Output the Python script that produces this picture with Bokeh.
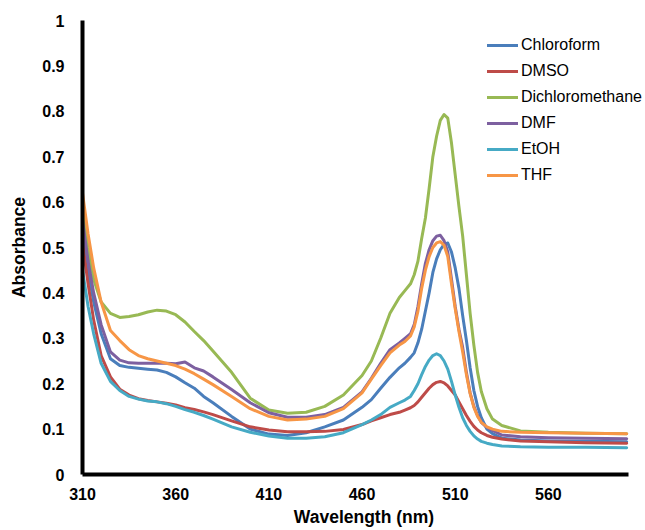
from bokeh.plotting import figure
from bokeh.models import Range1d, FixedTicker, NumeralTickFormatter, Legend, LegendItem
from bokeh.embed import file_html
from bokeh.resources import INLINE

wavelength = [310, 313, 316, 320, 325, 330, 335, 340, 345, 350, 355, 360, 365, 370, 375, 380,
              390, 400, 410, 420, 430, 440, 450, 460, 465, 470, 475, 480, 483,
              486, 488, 490, 492, 494, 496, 498, 500, 502, 504, 506, 508, 510, 512, 514, 516,
              518, 520, 522, 524, 527, 530, 535, 545, 560, 580, 602]

chloroform = [0.53, 0.45, 0.38, 0.31, 0.255, 0.24, 0.236, 0.234, 0.232, 0.23, 0.225, 0.215, 0.202,
              0.19, 0.172, 0.158, 0.128, 0.10, 0.089, 0.086, 0.092, 0.105, 0.12, 0.148, 0.165,
              0.19, 0.214, 0.235, 0.245,
              0.258, 0.268, 0.29, 0.32, 0.36, 0.40, 0.445, 0.475, 0.495, 0.507, 0.51, 0.49, 0.455,
              0.41, 0.35, 0.295, 0.235, 0.185, 0.15, 0.125,
              0.1, 0.09, 0.08, 0.076, 0.074, 0.073, 0.072]
dmso = [0.51, 0.42, 0.34, 0.262, 0.215, 0.188, 0.175, 0.167, 0.163, 0.16, 0.157, 0.153, 0.147,
        0.143, 0.138, 0.132, 0.118, 0.105, 0.098, 0.094, 0.094, 0.095, 0.099, 0.11, 0.118, 0.125,
        0.132, 0.137, 0.142,
        0.147, 0.152, 0.16, 0.17, 0.18, 0.19, 0.198, 0.203, 0.205, 0.202, 0.195, 0.185, 0.175,
        0.16, 0.145, 0.13, 0.117, 0.106, 0.098, 0.092,
        0.086, 0.082, 0.078, 0.074, 0.072, 0.07, 0.069]
dichloromethane = [0.60, 0.50, 0.43, 0.38, 0.355, 0.346, 0.348, 0.352, 0.358, 0.362, 0.36, 0.352,
                   0.336, 0.315, 0.295, 0.272, 0.225, 0.168, 0.142, 0.135, 0.137, 0.15, 0.175,
                   0.218, 0.25, 0.30, 0.355, 0.39, 0.405,
                   0.42, 0.44, 0.47, 0.52, 0.565, 0.63, 0.70, 0.745, 0.78, 0.793, 0.785, 0.73,
                   0.66, 0.59, 0.525, 0.44, 0.355, 0.285, 0.225, 0.183,
                   0.145, 0.122, 0.108, 0.096, 0.093, 0.091, 0.09]
dmf = [0.56, 0.47, 0.40, 0.33, 0.27, 0.252, 0.246, 0.245, 0.245, 0.245, 0.245, 0.244, 0.248, 0.235,
       0.228, 0.215, 0.187, 0.158, 0.136, 0.126, 0.126, 0.132, 0.148, 0.182, 0.212, 0.245, 0.275,
       0.29, 0.30,
       0.31, 0.33, 0.37, 0.42, 0.465, 0.495, 0.515, 0.525, 0.527, 0.515, 0.49, 0.43, 0.37, 0.32,
       0.28, 0.225, 0.18, 0.15, 0.13, 0.115,
       0.104, 0.097, 0.087, 0.083, 0.081, 0.08, 0.079]
etoh = [0.45, 0.37, 0.31, 0.245, 0.205, 0.185, 0.172, 0.166, 0.162, 0.16, 0.156, 0.15, 0.143,
        0.137, 0.13, 0.122, 0.105, 0.093, 0.085, 0.08, 0.08, 0.083, 0.092, 0.11, 0.12, 0.132,
        0.148, 0.158, 0.164,
        0.172, 0.185, 0.2, 0.22, 0.238, 0.252, 0.262, 0.266, 0.262, 0.25, 0.232, 0.205, 0.175,
        0.148, 0.125, 0.108, 0.095, 0.085, 0.078, 0.073,
        0.069, 0.066, 0.063, 0.061, 0.06, 0.06, 0.059]
thf = [0.62, 0.53, 0.455, 0.38, 0.317, 0.295, 0.275, 0.262, 0.255, 0.25, 0.245, 0.24, 0.232, 0.222,
       0.21, 0.198, 0.172, 0.145, 0.128, 0.12, 0.122, 0.128, 0.145, 0.18, 0.21, 0.24, 0.268, 0.285,
       0.293,
       0.305, 0.325, 0.36, 0.41, 0.45, 0.48, 0.50, 0.51, 0.513, 0.505, 0.48, 0.42, 0.365, 0.315,
       0.27, 0.22, 0.178, 0.148, 0.128, 0.115,
       0.105, 0.1, 0.095, 0.093, 0.092, 0.091, 0.09]

series_names = ["Chloroform", "DMSO", "Dichloromethane", "DMF", "EtOH", "THF"]
series_values = [chloroform, dmso, dichloromethane, dmf, etoh, thf]
series_colors = ["#4a7ebb", "#be4b48", "#98b954", "#7d60a0", "#46aac5", "#f79646"]

x_ticks = [310, 360, 410, 460, 510, 560]
y_ticks = [0, 0.1, 0.2, 0.3, 0.4, 0.5, 0.6, 0.7, 0.8, 0.9, 1.0]
x_axis_end = 603

FONT = "Liberation Sans"

# frame spans the full width so the legend text is not clipped; the axis line stops at x_axis_end
p = figure(width=645, height=530, output_backend="svg", toolbar_location=None,
           x_range=Range1d(310, 612.1), y_range=Range1d(0, 1),
           min_border_left=82, min_border_right=0, min_border_top=20, min_border_bottom=56)
p.outline_line_color = None
p.grid.visible = False
p.background_fill_color = "white"

items = []
for name, vals, col in zip(series_names, series_values, series_colors):
    r = p.line(wavelength, vals, line_color=col, line_width=3, line_join="round", line_cap="round")
    items.append(LegendItem(label=name, renderers=[r]))

for ax in (p.xaxis[0], p.yaxis[0]):
    ax.axis_line_color = "black"
    ax.axis_line_width = 4
    ax.major_tick_line_color = None
    ax.minor_tick_line_color = None
    ax.major_label_text_font = FONT
    ax.major_label_text_font_style = "bold"
    ax.major_label_text_font_size = "16px"
    ax.major_label_text_color = "black"
    ax.axis_label_text_font = FONT
    ax.axis_label_text_font_style = "bold"
    ax.axis_label_text_font_size = "17.5px"
    ax.axis_label_text_color = "black"

p.xaxis.bounds = (310, x_axis_end)
p.xaxis.ticker = FixedTicker(ticks=x_ticks)
p.yaxis.ticker = FixedTicker(ticks=y_ticks)
p.yaxis.formatter = NumeralTickFormatter(format="0.[0]")
p.xaxis.major_label_standoff = 7
p.yaxis.major_label_standoff = 12
p.xaxis.axis_label = "Wavelength (nm)"
p.yaxis.axis_label = "Absorbance"
p.xaxis.axis_label_standoff = 4
p.yaxis.axis_label_standoff = 10

legend = Legend(items=items, location=(405, 289), orientation="vertical")
legend.border_line_color = None
legend.background_fill_alpha = 0
legend.padding = 0
legend.margin = 0
legend.spacing = 6
legend.glyph_width = 31
legend.glyph_height = 20
legend.label_height = 20
legend.label_standoff = 3
legend.label_text_font = FONT
legend.label_text_font_size = "16px"
legend.label_text_color = "black"
p.add_layout(legend)

open("out.html", "w").write(file_html(p, INLINE))
